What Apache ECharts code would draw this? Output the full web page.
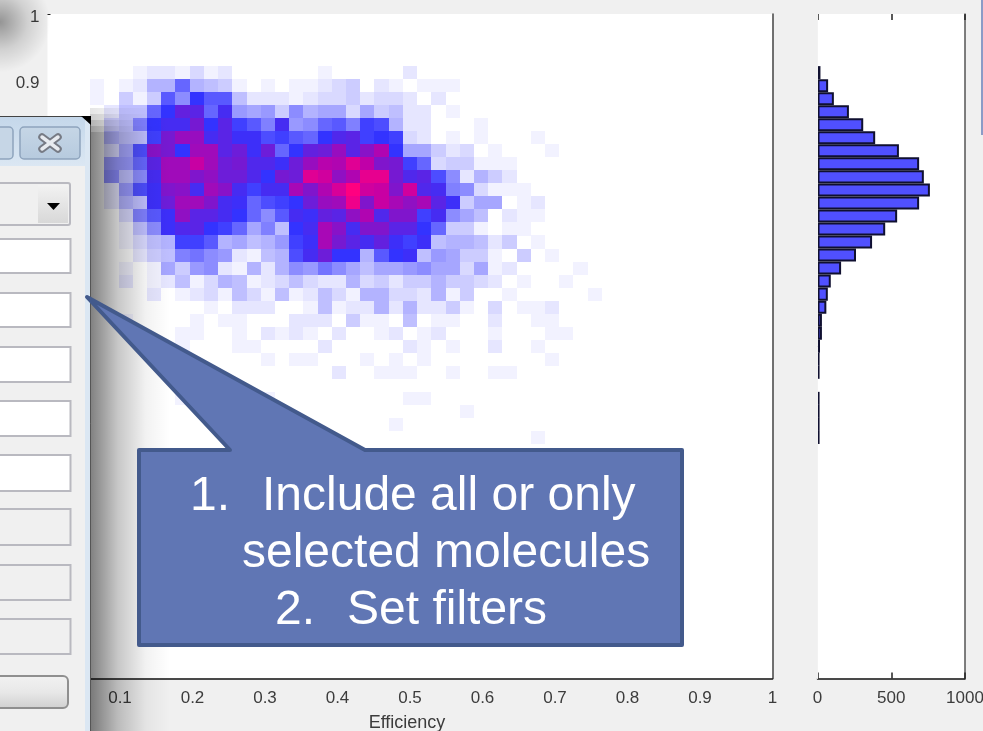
<!DOCTYPE html>
<html><head><meta charset="utf-8">
<style>html,body{margin:0;padding:0;background:#f0f0f0;overflow:hidden}#c{width:983px;height:731px}</style>
<script src="https://cdn.jsdelivr.net/npm/echarts@6/dist/echarts.min.js"></script>
</head><body><div id="c"></div>
<script>
const binCount = 51;
const firstCol = 3;
const firstRow = 4;
const histTicks = [0,500,1000];
const xLabel = 'Efficiency';
const calloutLines = ['Include all or only','selected molecules','Set filters'];
// counts per 2D bin, top row first; each row starts at firstCol
const heatRows = [
[0,0,0,1,2,2,1,3,1,2,0,0,0,0,0,0,1,0,0,0,0,0,2],
[1,0,1,2,6,6,12,6,5,4,1,0,1,0,1,1,2,3,4,0,2,1,0,1,1,1],
[1,0,4,1,4,13,9,16,13,13,5,2,2,2,1,2,3,3,4,2,3,3,2,0,2],
[0,2,5,5,12,16,21,20,12,18,8,7,8,4,9,6,7,7,3,7,4,5,2,2,0,1],
[0,4,5,10,16,18,18,23,16,20,15,13,10,18,8,9,12,13,10,15,14,6,2,2,0,0,0,1],
[0,6,5,5,15,23,27,27,18,20,17,17,14,15,13,12,16,19,20,15,16,15,3,2,0,1,0,1,0,0,0,1],
[0,3,7,14,25,23,16,28,28,20,22,17,22,12,16,21,22,27,20,25,30,16,7,7,4,2,3,0,1,0,0,0,1],
[0,8,8,12,20,28,28,33,28,22,23,19,19,17,22,27,31,30,36,32,24,23,15,12,3,4,4,1,1,1],
[0,9,5,9,18,28,28,24,26,22,22,19,16,23,22,36,34,26,30,37,37,23,19,20,14,9,2,6,4,2],
[0,2,8,14,17,24,25,18,28,25,18,15,18,18,29,24,30,35,40,34,33,24,34,19,18,10,9,3,1,1,1],
[0,2,6,5,17,22,28,28,24,18,17,12,14,15,16,22,27,28,38,24,33,29,26,29,20,17,4,7,7,0,1,2],
[0,0,3,10,13,17,26,20,20,18,16,12,9,13,18,17,21,20,26,30,19,24,24,15,18,9,7,5,0,2,1,1],
[0,0,1,5,9,17,19,20,16,15,12,7,10,5,16,18,29,25,18,24,24,20,20,16,12,4,4,1,0,1,1],
[0,0,1,3,5,6,15,15,13,6,7,5,6,8,15,17,29,23,20,18,21,17,15,17,5,6,6,5,2,4,0,1],
[0,0,0,2,4,5,10,11,9,8,2,1,5,6,14,18,22,16,16,6,13,16,17,5,8,7,4,4,1,0,4,0,1],
[0,0,1,0,1,7,4,8,9,2,1,6,2,6,9,8,11,9,7,5,7,7,8,9,7,7,3,7,1,2,0,0,0,0,1],
[0,0,2,0,1,2,5,1,3,6,5,1,2,3,5,3,2,2,6,3,4,2,4,4,6,4,4,3,2,0,1,0,0,1],
[0,0,0,0,2,0,1,2,3,1,5,3,1,5,1,2,5,3,1,6,6,3,3,2,6,1,4,0,0,1,0,0,0,0,0,1],
[0,0,0,0,0,0,0,0,1,0,2,2,2,0,0,1,5,1,2,2,6,2,6,2,2,4,1,0,3,0,1,1,2],
[0,0,1,0,0,0,0,1,0,1,1,0,0,0,2,2,2,0,4,1,1,0,5,0,1,1,0,0,2,0,0,1,1],
[0,0,0,0,0,0,1,1,0,0,1,0,2,1,2,1,0,2,0,0,1,2,0,1,2,0,0,0,1,0,0,0,1,1],
[0,0,0,0,0,0,1,0,0,0,1,1,0,0,0,0,2,0,0,0,0,0,2,1,0,1,0,0,2,0,0,1],
[0,0,0,0,0,0,0,0,0,0,0,0,1,0,1,1,0,0,0,1,0,1,0,1,0,0,0,0,0,0,0,0,1],
[0,0,0,0,0,0,0,0,0,0,0,0,0,0,0,0,0,2,0,0,1,1,1,0,0,1,0,0,1,1],
[],
[0,0,0,0,0,0,1,0,0,0,0,0,1,0,0,0,0,0,0,0,0,0,1,1],
[0,0,0,0,0,0,0,0,0,0,0,0,0,0,0,0,0,0,0,0,0,0,0,0,0,0,1],
[0,0,0,0,0,0,0,0,0,0,0,0,0,0,0,0,0,0,0,0,0,1],
[0,0,0,0,0,0,0,0,0,0,0,0,0,0,0,0,0,0,0,0,0,0,0,0,0,0,0,0,0,0,0,1]
];
// counts per y bin, top row first, same firstRow
const histRows = [20,72,111,213,310,391,552,689,721,762,689,540,459,370,261,160,90,70,60,30,30,17,14,14,0,14,14,14,14];
const heatStops = ['#ffffff','#9999ff','#3333ff','#8015cc','#c000a8','#ff0080'];

const heatData = [];
heatRows.forEach((row,r)=>row.forEach((v,c)=>{
  if(v>0) heatData.push([(c+firstCol)/binCount,(binCount-1-r-firstRow)/binCount,v]);
}));
const binNames = Array.from({length:binCount},(_,i)=>String(i));
const histData = binNames.map((_,i)=>{
  const r = binCount-1-i-firstRow;
  return r>=0 && r<histRows.length && histRows[r]>0 ? histRows[r] : null;
});

const font='"Liberation Sans",Arial,sans-serif';
const txt='#3c3c3c';
const chart=echarts.init(document.getElementById('c'),null,{renderer:'canvas'});

const g=[];
const R=(x,y,w,h,fill,stroke,lw,r,z)=>g.push({type:'rect',shape:{x,y,width:w,height:h,r:r||0},style:{fill,stroke:stroke||null,lineWidth:lw||0},z:z||10,silent:true});
const LG=(x0,y0,x1,y1,stops)=>new echarts.graphic.LinearGradient(x0,y0,x1,y1,stops.map((c,i)=>({offset:c[0],color:c[1]})));
// corner shade
g.push({type:'rect',shape:{x:0,y:0,width:70,height:110},style:{fill:new echarts.graphic.RadialGradient(0,0.2,0.72,[{offset:0,color:'rgba(0,0,0,0.38)'},{offset:0.55,color:'rgba(0,0,0,0.13)'},{offset:1,color:'rgba(0,0,0,0)'}])},z:8,silent:true});
// window drop shadow
for(let i=0;i<5;i++){
  const a=(i+1)/5;
  g.push({type:'rect',shape:{x:90,y:108+i*6,width:80,height:i==4?731-132:6},style:{fill:LG(0,0,1,0,[[0,`rgba(0,0,0,${0.5*a})`],[0.35,`rgba(0,0,0,${0.22*a})`],[0.7,`rgba(0,0,0,${0.05*a})`],[1,'rgba(0,0,0,0)']])},z:8,silent:true});
}
// window frame
R(0,116,90,615,'#f0f0f0');
R(0,116,90,50,LG(0,0,0,1,[[0,'#c4d7ea'],[1,'#dbe7f3']]));
R(85,116,5,615,'#dbe7f3');
g.push({type:'line',shape:{x1:0,y1:116.5,x2:90,y2:116.5},style:{stroke:'#444',lineWidth:1},z:11,silent:true});
g.push({type:'line',shape:{x1:90.5,y1:116,x2:90.5,y2:731},style:{stroke:'#555',lineWidth:1},z:11,silent:true});
g.push({type:'polygon',shape:{points:[[81,116],[91,116],[91,125]]},style:{fill:'#000'},z:12,silent:true});
// title buttons
R(-6,127,19,32,'#c6d6e6','#8ea4bd',1.5,4,11);
R(20,127,60,32,LG(0,0,0,1,[[0,'#c6d6e6'],[1,'#b6cade']]),'#8ea4bd',1.5,4,11);
[[[42,137],[58,149]],[[58,137],[42,149]]].forEach(p=>{
  g.push({type:'line',shape:{x1:p[0][0],y1:p[0][1],x2:p[1][0],y2:p[1][1]},style:{stroke:'#767a84',lineWidth:7.5,lineCap:'round'},z:12,silent:true});
});
[[[42,137],[58,149]],[[58,137],[42,149]]].forEach(p=>{
  g.push({type:'line',shape:{x1:p[0][0],y1:p[0][1],x2:p[1][0],y2:p[1][1]},style:{stroke:'#e8ebf0',lineWidth:3.5,lineCap:'round'},z:13,silent:true});
});
// dropdown
R(-4,183,74,42,'#f0f0f0','#b9b9c0',2,2,11);
R(38,185,30,38,LG(0,0,0,1,[[0,'#f2f2f2'],[1,'#d8d8d8']]),null,0,0,11);
g.push({type:'polygon',shape:{points:[[47,203],[60,203],[53.5,210]]},style:{fill:'#000'},z:12,silent:true});
// fields
[[239,34,'#fff'],[293,34,'#fff'],[347,35,'#fff'],[401,35,'#fff'],[455,36,'#fff'],[509,36,'#f0f0f0'],[565,35,'#f0f0f0'],[619,35,'#f0f0f0']].forEach(f=>R(-4,f[0],74.5,f[1],f[2],'#b9b9c0',2,0,11));
R(-8,676,76,32,LG(0,0,0,1,[[0,'#f2f2f2'],[0.5,'#e8e8e8'],[1,'#cfcfcf']]),'#8f8f8f',2,5,11);
// right-edge sliver
R(981,0,2,135,'#8b9bc6');
// callout
g.push({type:'polygon',shape:{points:[[139,450],[230,450],[87,297],[365,450],[682,450],[682,645],[139,645]]},style:{fill:'#6076b4',stroke:'#435a8c',lineWidth:4,lineJoin:'round'},z:14,silent:true});
const T=(s,x,y,anchor)=>g.push({type:'text',x,y,z:15,silent:true,style:{text:s,fill:'#fff',font:'48px '+font,textAlign:anchor||'left',textVerticalAlign:'middle',verticalAlign:'middle'}});
T('1.',190,497);T(calloutLines[0],262,497);
T(calloutLines[1],242,554);
T('2.',275,611);T(calloutLines[2],347,611);

const axisFont={fontFamily:font,fontSize:17,color:txt};
chart.setOption({
  animation:false,
  backgroundColor:'#f0f0f0',
  grid:[
    {left:47.5,top:14,width:725,height:664.5,show:true,backgroundColor:'#fff',borderWidth:0,outerBoundsMode:'none'},
    {left:817.5,top:14,width:147.5,height:664.5,show:true,backgroundColor:'#fff',borderWidth:0,outerBoundsMode:'none'}
  ],
  visualMap:{show:false,seriesIndex:0,dimension:2,min:0,max:40,inRange:{color:heatStops}},
  xAxis:[
    {gridIndex:0,type:'value',min:0,max:1,interval:0.1,splitLine:{show:false},
     axisLine:{onZero:false,lineStyle:{color:'#111',width:1.5}},axisTick:{show:false},
     axisLabel:{...axisFont,margin:11,showMaxLabel:true},
     name:xLabel,nameLocation:'middle',nameGap:36,nameTextStyle:{fontFamily:font,fontSize:18,color:txt,padding:[0,6,0,0]}},
    {gridIndex:1,type:'value',min:histTicks[0],max:histTicks[2],interval:500,splitLine:{show:false},
     axisLine:{onZero:false,lineStyle:{color:'#111',width:1.5}},axisTick:{inside:true,length:6,lineStyle:{color:'#222',width:1.5}},
     axisLabel:{...axisFont,margin:11,formatter:v=>String(v)}},
    {gridIndex:1,type:'value',position:'top',min:histTicks[0],max:histTicks[2],interval:500,splitLine:{show:false},
     axisLine:{show:true,onZero:false,lineStyle:{color:'#ffffff',width:0.5}},axisTick:{show:true,inside:true,length:6,lineStyle:{color:'#222',width:1.5}},axisLabel:{show:false}}
  ],
  yAxis:[
    {gridIndex:0,type:'value',min:0,max:1,interval:0.1,splitLine:{show:false},
     axisLine:{show:false},axisTick:{show:true,inside:true,length:3,customValues:[1],lineStyle:{color:'#222'}},
     axisLabel:{...axisFont,margin:8,verticalAlign:'top',lineHeight:6}},
    {gridIndex:0,type:'value',position:'right',min:0,max:1,splitLine:{show:false},
     axisLine:{show:true,onZero:false,lineStyle:{color:'#444',width:1.5}},axisTick:{show:false},axisLabel:{show:false}},
    {gridIndex:1,type:'category',data:binNames,axisLine:{show:true,onZero:false,lineStyle:{color:'#f2f2f2',width:1}},axisTick:{show:false},axisLabel:{show:false},z:6},
    {gridIndex:1,type:'value',position:'right',min:0,max:1,splitLine:{show:false},
     axisLine:{show:true,onZero:false,lineStyle:{color:'#555',width:1.5}},axisTick:{show:false},axisLabel:{show:false}}
  ],
  series:[
    {type:'custom',xAxisIndex:0,yAxisIndex:0,data:heatData,encode:{x:0,y:1},clip:true,
     renderItem:(params,api)=>{
       const x=api.value(0),y=api.value(1),w=1/binCount;
       const a=api.coord([x,y+w]),b=api.coord([x+w,y]);
       const x0=Math.round(a[0]),y0=Math.round(a[1]),x1=Math.round(b[0]),y1=Math.round(b[1]);
       return {type:'rect',shape:{x:x0,y:y0,width:x1-x0,height:y1-y0},style:{fill:api.visual('color')}};
     }},
    {type:'bar',xAxisIndex:1,yAxisIndex:2,data:histData,barWidth:'100%',barCategoryGap:0,z:2,
     itemStyle:{color:'#5050ff',borderColor:'#101030',borderWidth:2}}
  ],
  graphic:g
});
</script></body></html>
